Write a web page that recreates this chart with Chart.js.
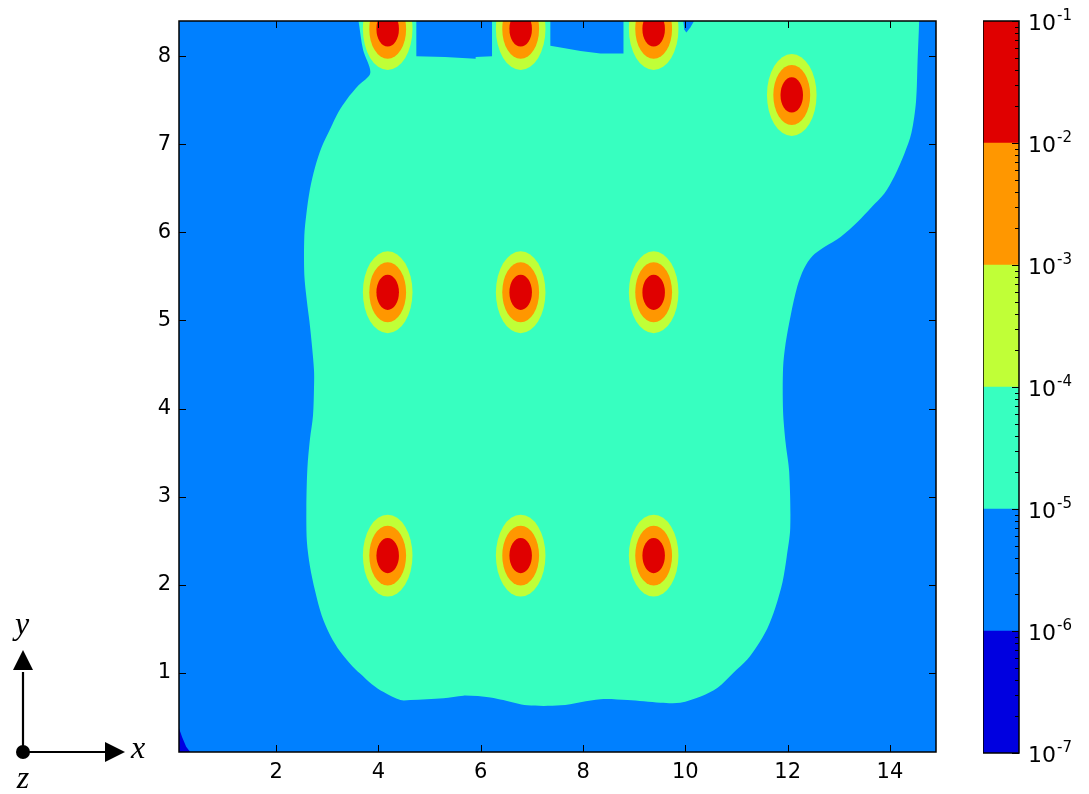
<!DOCTYPE html>
<html>
<head>
<meta charset="utf-8">
<script src="https://cdn.jsdelivr.net/npm/chart.js@4.4.1/dist/chart.umd.min.js"></script>
<style>
  body { margin: 0; background: #fff; }
  #wrap { position: relative; width: 1089px; height: 794px; overflow: hidden; }
  #mainChart { position: absolute; left: 0; top: 0; }
  #barChart { position: absolute; left: 983px; top: 0; }
  #axesGlyph { position: absolute; left: 0; top: 590px; }
</style>
</head>
<body>
<div id="wrap">
  <canvas id="mainChart" width="1089" height="794"></canvas>
  <canvas id="barChart" width="106" height="794"></canvas>
  <svg id="axesGlyph" width="170" height="204">
    <line x1="23" y1="162" x2="23" y2="82" stroke="#000" stroke-width="2.2"/>
    <polygon points="13,80 33,80 23,60" fill="#000"/>
    <line x1="23" y1="162" x2="106" y2="162" stroke="#000" stroke-width="2.2"/>
    <polygon points="105,152 105,172 125,162" fill="#000"/>
    <circle cx="23" cy="162" r="7" fill="#000"/>
    <text x="22" y="44" font-family="Liberation Serif" font-style="italic" font-size="32" text-anchor="middle">y</text>
    <text x="138" y="168" font-family="Liberation Serif" font-style="italic" font-size="32" text-anchor="middle">x</text>
    <text x="23" y="198" font-family="Liberation Serif" font-style="italic" font-size="32" text-anchor="middle">z</text>
  </svg>
</div>
<script>
// assi
const xRange = [0.1, 14.9];
const yRange = [0.1, 8.4];
const xTicks = [2, 4, 6, 8, 10, 12, 14];
const yTicks = [1, 2, 3, 4, 5, 6, 7, 8];

// livelli (colorbar)
const bandLow = [1e-7, 1e-6, 1e-5, 1e-4, 1e-3, 1e-2];
const bandHigh = [1e-6, 1e-5, 1e-4, 1e-3, 1e-2, 1e-1];
const bandColors = ["#0000e0", "#0080ff", "#37ffc0", "#c0ff37", "#ff9700", "#e00000"];
const barTicks = [1e-7, 1e-6, 1e-5, 1e-4, 1e-3, 1e-2, 1e-1];
const barTickBase = "10";
const barTickExp = ["-7", "-6", "-5", "-4", "-3", "-2", "-1"];

// contorno 1e-5 (zona principale)
const plumeEdge = [
  [3.61, 8.4], [3.70, 8.07], [3.84, 7.81], [3.61, 7.67], [3.38, 7.51], [3.22, 7.37], [3.06, 7.18],
  [2.89, 6.97], [2.76, 6.74], [2.66, 6.49], [2.59, 6.21], [2.55, 5.96], [2.55, 5.52], [2.60, 5.22],
  [2.65, 4.99], [2.70, 4.71], [2.74, 4.43], [2.74, 4.25], [2.72, 3.92], [2.66, 3.65], [2.61, 3.32],
  [2.59, 2.86], [2.60, 2.49], [2.66, 2.21], [2.76, 1.93], [2.89, 1.65], [3.06, 1.42], [3.25, 1.24],
  [3.45, 1.10], [3.64, 0.99], [3.87, 0.87], [4.10, 0.78], [4.43, 0.69], [4.62, 0.69], [5.27, 0.71],
  [5.66, 0.74], [6.19, 0.72], [6.44, 0.69], [6.91, 0.63], [7.56, 0.63], [8.34, 0.70], [8.87, 0.69],
  [9.51, 0.66], [9.90, 0.66], [10.30, 0.73], [10.63, 0.83], [10.94, 1.00], [11.21, 1.15], [11.40, 1.30],
  [11.60, 1.50], [11.76, 1.74], [11.90, 2.03], [11.98, 2.31], [12.05, 2.64], [12.03, 3.28], [11.96, 3.61],
  [11.91, 3.97], [11.91, 4.46], [11.96, 4.74], [12.06, 5.06], [12.19, 5.39], [12.32, 5.59], [12.48, 5.73],
  [12.71, 5.83], [13.04, 5.95], [13.37, 6.12], [13.63, 6.28], [13.89, 6.44], [14.09, 6.64], [14.28, 6.89],
  [14.42, 7.13], [14.51, 7.49], [14.54, 7.95], [14.57, 8.4], [14.57, 8.6], [3.61, 8.6], [3.61, 8.4]
];
// rientranze blu in alto
const notchA = [[4.74, 8.4], [4.74, 8.0], [5.3, 7.99], [5.9, 7.97], [5.9, 7.99], [6.22, 8.0], [6.22, 8.4]];
const notchB = [[7.36, 8.4], [7.36, 8.12], [7.56, 8.10], [7.95, 8.06], [8.34, 8.03], [8.79, 8.03], [8.79, 8.4]];
const notchC = [[9.96, 8.4], [9.98, 8.3], [10.02, 8.27], [10.1, 8.33], [10.17, 8.4]];
// angolo 1e-7
const cornerEdge = [[0.1, 0.1], [0.1, 0.37], [0.16, 0.27], [0.24, 0.16], [0.32, 0.1]];

// sorgenti
const spotX = [4.18, 6.78, 9.38, 4.18, 6.78, 9.38, 4.18, 6.78, 9.38, 12.08];
const spotY = [2.33, 2.33, 2.33, 5.32, 5.32, 5.32, 8.31, 8.31, 8.31, 7.56];
const ringRx = [0.485, 0.36, 0.22];
const ringRy = [0.465, 0.34, 0.20];
const ringColors = [bandColors[3], bandColors[4], bandColors[5]];

Chart.defaults.font.family = "DejaVu Sans";
Chart.defaults.font.size = 21;
Chart.defaults.color = "#000";

const toPts = arr => arr.map(p => ({ x: p[0], y: p[1] }));
const shape = (pts, color, tension) => ({
  data: toPts(pts), showLine: true, fill: "shape", backgroundColor: color,
  borderWidth: 0, pointRadius: 0, tension: tension || 0
});

// sfondo 1e-6..1e-5
const bgPlugin = {
  id: "bg",
  beforeDatasetsDraw(chart) {
    const a = chart.chartArea, ctx = chart.ctx;
    ctx.save();
    ctx.fillStyle = bandColors[1];
    ctx.fillRect(a.left, a.top, a.right - a.left, a.bottom - a.top);
    ctx.restore();
  }
};

// anelli attorno alle sorgenti
const spotPlugin = {
  id: "spots",
  afterDatasetsDraw(chart) {
    const a = chart.chartArea, ctx = chart.ctx;
    const sx = chart.scales.x, sy = chart.scales.y;
    ctx.save();
    ctx.beginPath();
    ctx.rect(a.left, a.top, a.right - a.left, a.bottom - a.top);
    ctx.clip();
    spotX.forEach((cx, i) => {
      const cy = spotY[i];
      const px = sx.getPixelForValue(cx), py = sy.getPixelForValue(cy);
      ringRx.forEach((rx, j) => {
        const rpx = Math.abs(sx.getPixelForValue(cx + rx) - px);
        const rpy = Math.abs(sy.getPixelForValue(cy + ringRy[j]) - py);
        ctx.fillStyle = ringColors[j];
        ctx.beginPath();
        ctx.ellipse(px, py, rpx, rpy, 0, 0, Math.PI * 2);
        ctx.fill();
      });
    });
    ctx.restore();
  }
};

// cornice e tacche interne
const framePlugin = {
  id: "frame",
  afterDraw(chart) {
    const a = chart.chartArea, ctx = chart.ctx;
    const sx = chart.scales.x, sy = chart.scales.y;
    ctx.save();
    ctx.strokeStyle = "#000";
    ctx.lineWidth = 1;
    ctx.beginPath();
    xTicks.forEach(v => {
      const p = Math.round(sx.getPixelForValue(v)) + 0.5;
      ctx.moveTo(p, a.bottom); ctx.lineTo(p, a.bottom - 7);
      ctx.moveTo(p, a.top); ctx.lineTo(p, a.top + 7);
    });
    yTicks.forEach(v => {
      const p = Math.round(sy.getPixelForValue(v)) + 0.5;
      ctx.moveTo(a.left, p); ctx.lineTo(a.left + 7, p);
      ctx.moveTo(a.right, p); ctx.lineTo(a.right - 7, p);
    });
    ctx.stroke();
    ctx.lineWidth = 1.5;
    ctx.strokeRect(a.left, a.top, a.right - a.left, a.bottom - a.top);
    ctx.restore();
  }
};

new Chart(document.getElementById("mainChart"), {
  type: "scatter",
  data: {
    datasets: [
      shape(notchA, bandColors[1]),
      shape(notchB, bandColors[1]),
      shape(notchC, bandColors[1]),
      shape(cornerEdge, bandColors[0]),
      shape(plumeEdge, bandColors[2], 0.3)
    ]
  },
  options: {
    responsive: false,
    animation: false,
    layout: { padding: { left: 139, top: 21, right: 153, bottom: 12 } },
    plugins: { legend: { display: false }, tooltip: { enabled: false } },
    scales: {
      x: {
        type: "linear", min: xRange[0], max: xRange[1],
        grid: { display: false, drawTicks: false }, border: { display: false },
        afterBuildTicks: s => { s.ticks = xTicks.map(v => ({ value: v })); },
        afterFit: s => { s.height = 30; },
        ticks: { padding: 8, maxRotation: 0 }
      },
      y: {
        type: "linear", min: yRange[0], max: yRange[1],
        grid: { display: false, drawTicks: false }, border: { display: false },
        afterBuildTicks: s => { s.ticks = yTicks.map(v => ({ value: v })); },
        afterFit: s => { s.width = 40; },
        ticks: { padding: 8 }
      }
    }
  },
  plugins: [bgPlugin, spotPlugin, framePlugin]
});

// tacche ed etichette colorbar (10 con esponente)
const barFramePlugin = {
  id: "barFrame",
  afterDraw(chart) {
    const a = chart.chartArea, ctx = chart.ctx, sy = chart.scales.y;
    ctx.save();
    ctx.strokeStyle = "#000";
    ctx.lineWidth = 1;
    ctx.beginPath();
    barTicks.forEach((v, i) => {
      const p = Math.round(sy.getPixelForValue(v)) + 0.5;
      ctx.moveTo(a.right, p); ctx.lineTo(a.right - 7, p);
      if (i < barTicks.length - 1) {
        for (let m = 2; m <= 9; m++) {
          const q = Math.round(sy.getPixelForValue(v * m)) + 0.5;
          ctx.moveTo(a.right, q); ctx.lineTo(a.right - 4, q);
        }
      }
    });
    ctx.stroke();
    ctx.lineWidth = 1.5;
    ctx.strokeRect(a.left, a.top, a.right - a.left, a.bottom - a.top);

    ctx.fillStyle = "#000";
    ctx.textBaseline = "alphabetic";
    ctx.textAlign = "left";
    barTicks.forEach((v, i) => {
      const p = sy.getPixelForValue(v);
      const x0 = a.right + 9;
      ctx.font = "22px 'DejaVu Sans'";
      ctx.fillText(barTickBase, x0, p + 9);
      const w = ctx.measureText(barTickBase).width;
      ctx.font = "15px 'DejaVu Sans'";
      ctx.fillText(barTickExp[i], x0 + w + 1, p - 1);
    });
    ctx.restore();
  }
};

new Chart(document.getElementById("barChart"), {
  type: "bar",
  data: {
    labels: [""],
    datasets: bandLow.map((lo, i) => ({
      data: [[lo, bandHigh[i]]],
      backgroundColor: bandColors[i],
      borderWidth: 0,
      grouped: false,
      barPercentage: 1,
      categoryPercentage: 1
    }))
  },
  options: {
    responsive: false,
    animation: false,
    layout: { padding: { left: 0, top: 21, right: 0, bottom: 41 } },
    plugins: { legend: { display: false }, tooltip: { enabled: false } },
    scales: {
      x: { display: false },
      y: {
        type: "logarithmic", position: "right", min: barTicks[0], max: barTicks[barTicks.length - 1],
        grid: { display: false, drawTicks: false }, border: { display: false },
        afterBuildTicks: s => { s.ticks = barTicks.map(v => ({ value: v })); },
        afterFit: s => { s.width = 70; },
        ticks: { display: false }
      }
    }
  },
  plugins: [barFramePlugin]
});
</script>
</body>
</html>
